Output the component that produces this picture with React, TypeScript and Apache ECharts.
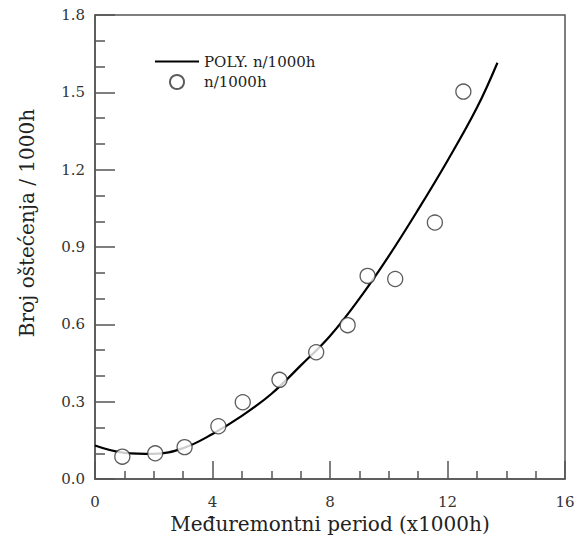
import React, { useEffect, useRef } from "react";
import * as echarts from "echarts";

// Observed data points (n/1000h)
const pointX = [0.93, 2.05, 3.05, 4.2, 5.03, 6.28, 7.53, 8.6, 9.28, 10.22, 11.57, 12.54];
const pointY = [0.087, 0.1, 0.124, 0.205, 0.298, 0.385, 0.492, 0.597, 0.788, 0.776, 0.995, 1.503];

// Polynomial fit curve
const curveX = [0, 1, 2, 3, 4, 5, 6, 7, 8, 9, 10, 11, 12, 13, 13.7];
const curveY = [0.13, 0.102, 0.098, 0.12, 0.175, 0.245, 0.33, 0.44, 0.555, 0.7, 0.865, 1.045, 1.235, 1.44, 1.615];

const xTicks = [0, 4, 8, 12, 16];
const yTicks = [0, 0.3, 0.6, 0.9, 1.2, 1.5, 1.8];

const FONT = "DejaVu Serif";

export default function App() {
  const ref = useRef<HTMLDivElement>(null);
  useEffect(() => {
    if (!ref.current) return;
    const chart = echarts.init(ref.current, null, { renderer: "svg" });
    const axisLine = { show: true, lineStyle: { color: "#555", width: 1.5 } };
    chart.setOption({
      animation: false,
      backgroundColor: "#fff",
      grid: {
        left: 95,
        top: 15,
        width: 470,
        height: 471,
        show: true,
        borderColor: "#555",
        borderWidth: 1.5,
        containLabel: false,
      },
      legend: {
        left: 150,
        top: 49,
        orient: "vertical",
        itemWidth: 44,
        itemHeight: 14,
        itemGap: 5,
        textStyle: { fontFamily: FONT, fontSize: 15, color: "#222" },
        data: [
          { name: "POLY. n/1000h", icon: "path://M0,0 L44,0 L44,2.2 L0,2.2 Z" },
          { name: "n/1000h" },
        ],
      },
      xAxis: {
        type: "value",
        min: xTicks[0],
        max: xTicks[xTicks.length - 1],
        interval: 4,
        name: "Međuremontni period (x1000h)",
        nameLocation: "middle",
        nameGap: 33,
        nameTextStyle: { fontFamily: FONT, fontSize: 20, color: "#222" },
        axisLine,
        axisTick: { show: true, inside: true, length: 18, lineStyle: { color: "#555", width: 1.5 } },
        minorTick: { show: true, splitNumber: 4, length: 8, lineStyle: { color: "#555", width: 1.5 } },
        axisLabel: { fontFamily: FONT, fontSize: 15, color: "#333", margin: 15 },
        splitLine: { show: false },
      },
      yAxis: {
        type: "value",
        min: yTicks[0],
        max: yTicks[yTicks.length - 1],
        interval: 0.3,
        name: "Broj oštećenja / 1000h",
        nameLocation: "middle",
        nameGap: 58,
        nameTextStyle: { fontFamily: FONT, fontSize: 20, color: "#222", padding: [0, 0, 0, 48] },
        axisLine,
        axisTick: { show: true, inside: true, length: 20, lineStyle: { color: "#555", width: 1.5 } },
        minorTick: { show: true, splitNumber: 3, length: 10, lineStyle: { color: "#555", width: 1.5 } },
        axisLabel: {
          fontFamily: FONT,
          fontSize: 15,
          color: "#333",
          margin: 10,
          formatter: (v: number) => v.toFixed(1),
        },
        splitLine: { show: false },
      },
      series: [
        {
          name: "POLY. n/1000h",
          type: "line",
          smooth: 0.4,
          symbol: "none",
          data: curveX.map((x, i) => [x, curveY[i]]),
          lineStyle: { color: "#000", width: 2.2 },
          itemStyle: { color: "#000" },
          z: 2,
        },
        {
          name: "n/1000h",
          type: "scatter",
          symbol: "circle",
          symbolSize: 15,
          data: pointX.map((x, i) => [x, pointY[i]]),
          itemStyle: { color: "#fff", borderColor: "#333", borderWidth: 1.3 },
          z: 3,
        },
      ],
    });
    return () => chart.dispose();
  }, []);
  return (
    <div
      ref={ref}
      style={{ position: "fixed", left: 0, top: 0, width: 587, height: 539 }}
    />
  );
}
